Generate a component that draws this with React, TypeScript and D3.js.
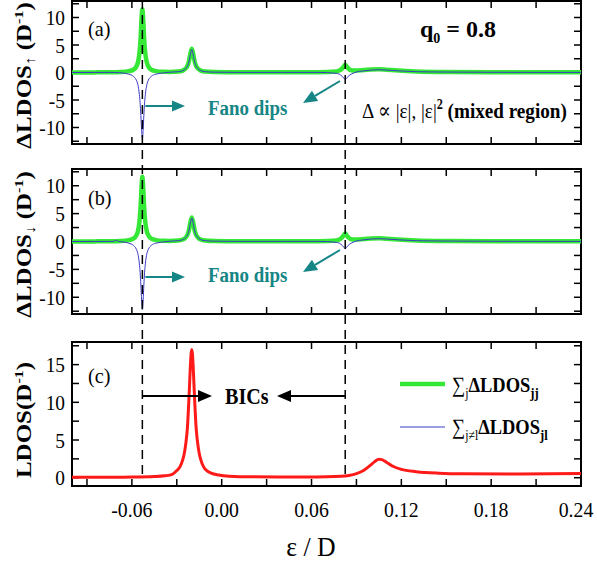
import React from 'react';
import * as d3 from 'd3';

// ---------- data ----------
const xTickValues = [-0.09, -0.06, -0.03, 0.0, 0.03, 0.06, 0.09, 0.12, 0.15, 0.18, 0.21, 0.24];
const xTickLabels = ['-0.06', '0.00', '0.06', '0.12', '0.18', '0.24'];
const xLabelValues = [-0.06, 0.0, 0.06, 0.12, 0.18, 0.24];
const yTicksAB = [-12.5, -10, -7.5, -5, -2.5, 0, 2.5, 5, 7.5, 10, 12.5];
const yLabelsAB = [-10, -5, 0, 5, 10];
const yTicksC = [0, 2.5, 5, 7.5, 10, 12.5, 15, 17.5];
const yLabelsC = [0, 5, 10, 15];
const dashedEps = [-0.053, 0.0825];

const greenUp: [number, number][] = [
  [-0.1, 0], [-0.085, 0.02], [-0.075, 0.05], [-0.068, 0.1], [-0.062, 0.25], [-0.059, 0.5],
  [-0.057, 1.1], [-0.056, 1.8], [-0.055, 3.4], [-0.0545, 4.9], [-0.054, 7.2], [-0.0535, 10],
  [-0.053, 11.5], [-0.0525, 10], [-0.052, 7.2], [-0.0515, 4.9], [-0.051, 3.4], [-0.05, 1.8],
  [-0.049, 1.1], [-0.047, 0.5], [-0.044, 0.25], [-0.038, 0.12], [-0.035, 0.1], [-0.029, 0.17],
  [-0.026, 0.35], [-0.024, 0.75], [-0.023, 1.15], [-0.022, 1.9], [-0.021, 3.3], [-0.02, 4.3],
  [-0.019, 3.3], [-0.018, 1.9], [-0.017, 1.15], [-0.016, 0.75], [-0.014, 0.35], [-0.011, 0.17],
  [-0.005, 0.07], [0.01, 0.03], [0.04, 0.03], [0.065, 0.06], [0.0765, 0.2], [0.0785, 0.35],
  [0.0805, 0.75], [0.0815, 1.1], [0.0825, 1.4], [0.0835, 1.1], [0.0845, 0.75], [0.0865, 0.4],
  [0.089, 0.35], [0.095, 0.45], [0.1, 0.55], [0.105, 0.58], [0.11, 0.5], [0.118, 0.35],
  [0.13, 0.2], [0.15, 0.1], [0.18, 0.06], [0.21, 0.04], [0.24, 0.03],
];

const blueUp: [number, number][] = [
  [-0.1, 0], [-0.085, 0.01], [-0.075, 0.02], [-0.068, -0.05], [-0.062, -0.3], [-0.059, -0.7],
  [-0.057, -1.4], [-0.056, -2.2], [-0.055, -4], [-0.0545, -5.5], [-0.054, -7.8], [-0.0535, -10.5],
  [-0.053, -12], [-0.0525, -10.5], [-0.052, -7.8], [-0.0515, -5.5], [-0.051, -4], [-0.05, -2.2],
  [-0.049, -1.4], [-0.047, -0.7], [-0.044, -0.3], [-0.038, -0.05], [-0.035, 0.05], [-0.029, 0.15],
  [-0.026, 0.33], [-0.024, 0.72], [-0.023, 1.1], [-0.022, 1.85], [-0.021, 3.2], [-0.02, 4.2],
  [-0.019, 3.2], [-0.018, 1.85], [-0.017, 1.1], [-0.016, 0.72], [-0.014, 0.33], [-0.011, 0.15],
  [-0.005, 0.06], [0.01, 0.02], [0.04, 0.02], [0.065, 0.02], [0.0765, -0.15], [0.0785, -0.3],
  [0.0805, -0.7], [0.0815, -1.0], [0.0825, -1.3], [0.0835, -1.0], [0.0845, -0.7], [0.0865, -0.3],
  [0.089, 0.0], [0.095, 0.3], [0.1, 0.45], [0.105, 0.5], [0.11, 0.45], [0.118, 0.3],
  [0.13, 0.15], [0.15, 0.08], [0.18, 0.04], [0.21, 0.02], [0.24, 0.02],
];

const greenDown: [number, number][] = [
  [-0.1, 0], [-0.085, 0.02], [-0.075, 0.05], [-0.068, 0.1], [-0.062, 0.25], [-0.059, 0.5],
  [-0.057, 1.1], [-0.056, 1.8], [-0.055, 3.4], [-0.0545, 4.9], [-0.054, 7.2], [-0.0535, 10],
  [-0.053, 11.6], [-0.0525, 10], [-0.052, 7.2], [-0.0515, 4.9], [-0.051, 3.4], [-0.05, 1.8],
  [-0.049, 1.1], [-0.047, 0.5], [-0.044, 0.25], [-0.038, 0.12], [-0.035, 0.1], [-0.029, 0.17],
  [-0.026, 0.35], [-0.024, 0.75], [-0.023, 1.15], [-0.022, 1.9], [-0.021, 3.3], [-0.02, 4.3],
  [-0.019, 3.3], [-0.018, 1.9], [-0.017, 1.15], [-0.016, 0.75], [-0.014, 0.35], [-0.011, 0.17],
  [-0.005, 0.07], [0.01, 0.03], [0.04, 0.03], [0.065, 0.06], [0.0765, 0.2], [0.0785, 0.35],
  [0.0805, 0.75], [0.0815, 1.1], [0.0825, 1.5], [0.0835, 1.1], [0.0845, 0.75], [0.0865, 0.4],
  [0.089, 0.35], [0.095, 0.45], [0.1, 0.55], [0.105, 0.6], [0.11, 0.5], [0.118, 0.35],
  [0.13, 0.2], [0.15, 0.1], [0.18, 0.06], [0.21, 0.04], [0.24, 0.03],
];

const blueDown: [number, number][] = [
  [-0.1, 0], [-0.085, 0.01], [-0.072, 0.02], [-0.0705, 0.25], [-0.069, 0.02], [-0.066, -0.08],
  [-0.062, -0.3], [-0.059, -0.7],
  [-0.057, -1.4], [-0.056, -2.2], [-0.055, -4], [-0.0545, -5.5], [-0.054, -7.8], [-0.0535, -10.5],
  [-0.053, -12.2], [-0.0525, -10.5], [-0.052, -7.8], [-0.0515, -5.5], [-0.051, -4], [-0.05, -2.2],
  [-0.049, -1.4], [-0.047, -0.7], [-0.044, -0.3], [-0.038, -0.05], [-0.035, 0.05], [-0.029, 0.15],
  [-0.026, 0.33], [-0.024, 0.72], [-0.023, 1.1], [-0.022, 1.85], [-0.021, 3.2], [-0.02, 4.2],
  [-0.019, 3.2], [-0.018, 1.85], [-0.017, 1.1], [-0.016, 0.72], [-0.014, 0.33], [-0.011, 0.15],
  [-0.005, 0.06], [0.01, 0.02], [0.04, 0.02], [0.065, 0.02], [0.0765, -0.15], [0.0785, -0.3],
  [0.0805, -0.7], [0.0815, -1.0], [0.0825, -1.3], [0.0835, -1.0], [0.0845, -0.7], [0.0865, -0.3],
  [0.089, 0.0], [0.095, 0.3], [0.1, 0.45], [0.105, 0.5], [0.11, 0.45], [0.118, 0.3],
  [0.13, 0.15], [0.15, 0.08], [0.18, 0.04], [0.21, 0.02], [0.24, 0.02],
];

const ldosTotal: [number, number][] = [
  [-0.1, 0.05], [-0.08, 0.06], [-0.06, 0.08], [-0.045, 0.15], [-0.038, 0.25], [-0.033, 0.45],
  [-0.03, 0.95], [-0.028, 1.4], [-0.026, 2.4], [-0.025, 3.2], [-0.024, 4.5], [-0.023, 6.4],
  [-0.022, 10], [-0.0215, 12.2], [-0.021, 14.5], [-0.0205, 16.3], [-0.02, 17], [-0.0195, 16.3],
  [-0.019, 14.5], [-0.0185, 12.2], [-0.018, 10], [-0.017, 6.4], [-0.016, 4.5], [-0.015, 3.2],
  [-0.014, 2.4], [-0.012, 1.4], [-0.01, 0.95], [-0.007, 0.6], [-0.002, 0.35], [0.005, 0.2],
  [0.02, 0.12], [0.05, 0.1], [0.07, 0.12], [0.08, 0.18], [0.085, 0.3], [0.09, 0.55],
  [0.095, 1.0], [0.099, 1.6], [0.102, 2.1], [0.105, 2.45], [0.107, 2.4], [0.11, 2.05],
  [0.114, 1.55], [0.12, 1.1], [0.13, 0.8], [0.145, 0.6], [0.16, 0.52], [0.2, 0.5], [0.24, 0.55],
];

// ---------- layout ----------
const W = 597;
const H = 566;
const X0 = 72;
const X1 = 581;
const SX = 0.87; // horizontal squeeze of the reference text
const FONT = 'Liberation Serif, DejaVu Serif, serif';
const TEAL = '#168585';
const GREEN = '#35e835';
const BLUE = '#3b3bc4';
const RED = '#ff1a1a';

const x = d3.scaleLinear().domain([-0.1, 0.24]).range([X0, X1]);
const yA = d3.scaleLinear().domain([-13, 13]).range([144, 1]);
const yB = d3.scaleLinear().domain([-13, 13]).range([314, 169]);
const yC = d3.scaleLinear().domain([-1.1, 18]).range([486, 342]);

const lineGen = (ys: d3.ScaleLinear<number, number>) =>
  d3.line<[number, number]>().x((d) => x(d[0])).y((d) => ys(d[1])).curve(d3.curveMonotoneX);

type TProps = {
  x: number; y: number; size: number; anchor?: string; weight?: string | number;
  fill?: string; rotate?: boolean; sx?: number; children: React.ReactNode;
};
const T = ({ x: tx, y: ty, size, anchor = 'start', weight = 'normal', fill = '#000', rotate = false, sx = SX, children }: TProps) => (
  <text
    transform={`translate(${tx},${ty}) ${rotate ? `rotate(-90) scale(1,${sx})` : `scale(${sx},1)`}`}
    style={{ fontFamily: FONT, fontSize: size, fontWeight: weight as any }}
    textAnchor={anchor}
    fill={fill}
  >
    {children}
  </text>
);

const Panel = ({ ys, yTicks, yLabels, id }: { ys: d3.ScaleLinear<number, number>; yTicks: number[]; yLabels: number[]; id: string }) => {
  const [b, t] = ys.range();
  const tl = 7;
  return (
    <g>
      <defs>
        <clipPath id={id}>
          <rect x={X0} y={t} width={X1 - X0} height={b - t} />
        </clipPath>
      </defs>
      {xTickValues.map((v) => (
        <g key={'xt' + v}>
          <line x1={x(v)} x2={x(v)} y1={b} y2={b - tl} stroke="#000" strokeWidth={1.5} />
          <line x1={x(v)} x2={x(v)} y1={t} y2={t + tl} stroke="#000" strokeWidth={1.5} />
        </g>
      ))}
      {yTicks.map((v) => (
        <g key={'yt' + v}>
          <line x1={X0} x2={X0 + tl} y1={ys(v)} y2={ys(v)} stroke="#000" strokeWidth={1.5} />
          <line x1={X1} x2={X1 - tl} y1={ys(v)} y2={ys(v)} stroke="#000" strokeWidth={1.5} />
        </g>
      ))}
      {yLabels.map((v) => (
        <T key={'yl' + v} x={65} y={ys(v) + 7.5} size={22} anchor="end" sx={0.88}>{String(v)}</T>
      ))}
      <rect x={X0} y={t} width={X1 - X0} height={b - t} fill="none" stroke="#000" strokeWidth={2} />
    </g>
  );
};

const Arrow = ({ x1, y1, x2, y2, color, head = 13, half = 5.5 }: { x1: number; y1: number; x2: number; y2: number; color: string; head?: number; half?: number }) => {
  const ang = Math.atan2(y2 - y1, x2 - x1);
  const bx = x2 - head * Math.cos(ang);
  const by = y2 - head * Math.sin(ang);
  const px = -Math.sin(ang) * half;
  const py = Math.cos(ang) * half;
  return (
    <g>
      <line x1={x1} y1={y1} x2={bx} y2={by} stroke={color} strokeWidth={2} />
      <polygon points={`${x2},${y2} ${bx + px},${by + py} ${bx - px},${by - py}`} fill={color} />
    </g>
  );
};

export default function App() {
  const lA = lineGen(yA);
  const lB = lineGen(yB);
  const lC = lineGen(yC);
  return (
    <svg width={W} height={H} style={{ position: 'absolute', left: 0, top: 0, background: '#fff' }}>
      <rect x={0} y={0} width={W} height={H} fill="#fff" />
      <Panel ys={yA} yTicks={yTicksAB} yLabels={yLabelsAB} id="clipA" />
      <Panel ys={yB} yTicks={yTicksAB} yLabels={yLabelsAB} id="clipB" />
      <Panel ys={yC} yTicks={yTicksC} yLabels={yLabelsC} id="clipC" />

      {/* curves */}
      <g clipPath="url(#clipA)">
        <path d={lA(greenUp) || ''} fill="none" stroke={GREEN} strokeWidth={4.5} />
        <path d={lA(blueUp) || ''} fill="none" stroke={BLUE} strokeWidth={1} />
      </g>
      <g clipPath="url(#clipB)">
        <path d={lB(greenDown) || ''} fill="none" stroke={GREEN} strokeWidth={4.5} />
        <path d={lB(blueDown) || ''} fill="none" stroke={BLUE} strokeWidth={1} />
      </g>
      <g clipPath="url(#clipC)">
        <path d={lC(ldosTotal) || ''} fill="none" stroke={RED} strokeWidth={3} />
      </g>

      {/* dashed verticals */}
      {dashedEps.map((e) => (
        <line key={'d' + e} x1={x(e)} x2={x(e)} y1={0} y2={yC(0)} stroke="#000" strokeWidth={1.5} strokeDasharray="9,6" />
      ))}

      {/* x tick labels */}
      {xLabelValues.map((v, i) => (
        <T key={'xl' + v} x={Math.min(x(v), W - 21)} y={517} size={22} anchor="middle" sx={0.9}>{xTickLabels[i]}</T>
      ))}
      <T x={311} y={556} size={28} anchor="middle" sx={0.92}>ε / D</T>

      {/* y axis titles */}
      <T x={31} y={yA(0) + 3} size={25} anchor="middle" weight="bold" rotate sx={0.82}>
        ΔLDOS<tspan style={{ fontSize: 17 }} dy={5}>↑</tspan><tspan dy={-5}> (D</tspan><tspan style={{ fontSize: 16 }} dy={-10}>-1</tspan><tspan dy={10}>)</tspan>
      </T>
      <T x={31} y={yB(0) + 3} size={25} anchor="middle" weight="bold" rotate sx={0.82}>
        ΔLDOS<tspan style={{ fontSize: 17 }} dy={5}>↓</tspan><tspan dy={-5}> (D</tspan><tspan style={{ fontSize: 16 }} dy={-10}>-1</tspan><tspan dy={10}>)</tspan>
      </T>
      <T x={31} y={420} size={25} anchor="middle" weight="bold" rotate sx={0.82}>
        LDOS(D<tspan style={{ fontSize: 16 }} dy={-10}>-1</tspan><tspan dy={10}>)</tspan>
      </T>

      {/* panel tags */}
      <T x={88} y={36} size={22} sx={0.92}>(a)</T>
      <T x={88} y={205} size={22} sx={0.92}>(b)</T>
      <T x={88} y={383} size={22} sx={0.92}>(c)</T>

      {/* annotations */}
      <T x={420} y={37} size={24} weight="bold" sx={1.0}>
        q<tspan style={{ fontSize: 14 }} dy={6}>0</tspan><tspan dy={-6}> = 0.8</tspan>
      </T>
      <T x={362} y={118} size={22} sx={0.87}>
        Δ ∝ |ε|, |ε|<tspan style={{ fontSize: 14, fontWeight: 'bold' }} dy={-9}>2</tspan><tspan style={{ fontWeight: 'bold' }} dy={9}> (mixed region)</tspan>
      </T>

      <T x={208} y={115} size={22} weight="bold" fill={TEAL} sx={0.86}>Fano dips</T>
      <T x={208} y={282} size={22} weight="bold" fill={TEAL} sx={0.86}>Fano dips</T>
      <Arrow x1={x(-0.053) + 3} y1={106} x2={185} y2={106} color={TEAL} />
      <Arrow x1={x(-0.053) + 3} y1={277} x2={185} y2={277} color={TEAL} />
      <Arrow x1={340} y1={81} x2={303} y2={103} color={TEAL} head={14} half={6} />
      <Arrow x1={340} y1={250} x2={303} y2={272} color={TEAL} head={14} half={6} />

      <T x={225} y={404} size={24} weight="bold" sx={0.84}>BICs</T>
      <Arrow x1={x(-0.053)} y1={396} x2={212} y2={396} color="#000" head={14} half={6} />
      <Arrow x1={x(0.0825)} y1={396} x2={277} y2={396} color="#000" head={14} half={6} />

      {/* legend */}
      <line x1={400} x2={445} y1={384} y2={384} stroke={GREEN} strokeWidth={4.5} />
      <line x1={400} x2={445} y1={427} y2={427} stroke={BLUE} strokeWidth={1} />
      <T x={452} y={392} size={22} sx={0.84}>
        ∑<tspan style={{ fontSize: 14 }} dy={6}>j</tspan><tspan style={{ fontWeight: 'bold' }} dy={-6}>ΔLDOS</tspan><tspan style={{ fontSize: 15, fontWeight: 'bold' }} dy={6}>jj</tspan>
      </T>
      <T x={452} y={434} size={22} sx={0.84}>
        ∑<tspan style={{ fontSize: 14 }} dy={6}>j≠l</tspan><tspan style={{ fontWeight: 'bold' }} dy={-6}>ΔLDOS</tspan><tspan style={{ fontSize: 15, fontWeight: 'bold' }} dy={6}>jl</tspan>
      </T>
    </svg>
  );
}
